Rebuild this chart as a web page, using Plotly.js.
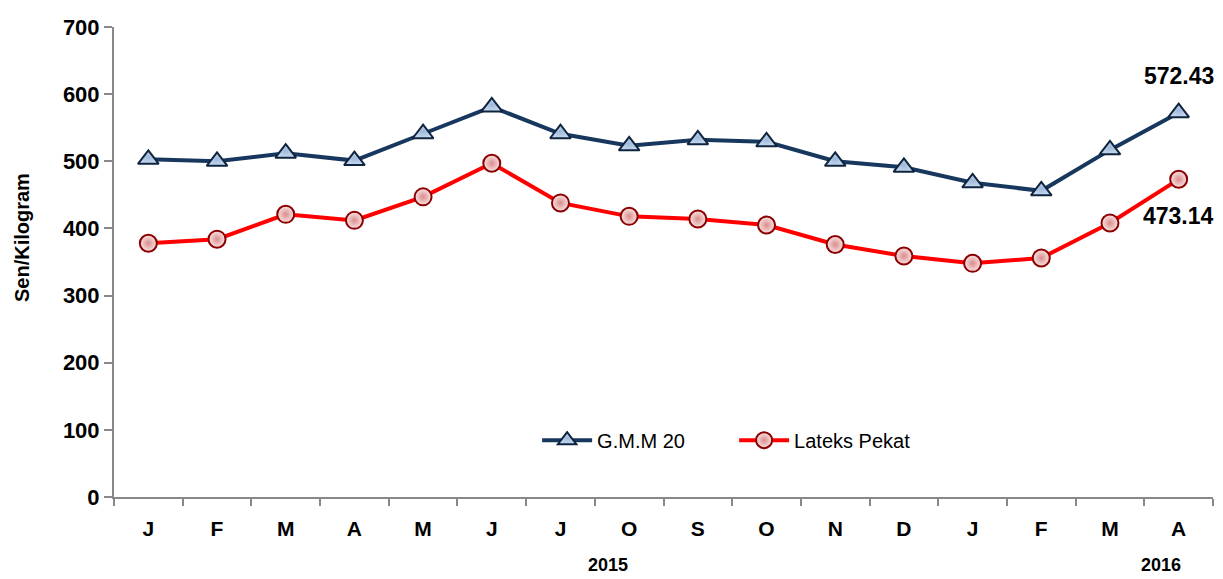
<!DOCTYPE html>
<html>
<head>
<meta charset="utf-8">
<script src="https://cdn.plot.ly/plotly-3.0.1.min.js"></script>
<style>html,body{margin:0;padding:0;background:#fff;}#chart{width:1223px;height:579px;}</style>
</head>
<body>
<div id="chart"></div>
<script>
const months = ["J","F","M","A","M","J","J","O","S","O","N","D","J","F","M","A"];
const gmm20 = [503, 500, 512, 501, 541, 581, 541, 523, 532, 529, 500, 491, 468, 456, 517, 572.43];
const lateks = [378, 384, 421, 412, 447, 497, 438, 418, 414, 405, 376, 359, 348, 356, 408, 473.14];
const yearLabels = ["2015", "2016"];
const yearPos = [6.69, 14.75];
const yTitle = "Sen/Kilogram";
const idx = months.map((m, i) => i);

const traces = [
  {
    x: idx, y: gmm20, name: "G.M.M 20", type: "scatter", mode: "lines+markers",
    line: {color: "#17375e", width: 4},
    marker: {symbol: "triangle-up", size: 18, color: "#c6d9f1",
             gradient: {type: "radial", color: "#9fb8d8"},
             line: {color: "#0f243e", width: 2}}
  },
  {
    x: idx, y: lateks, name: "Lateks Pekat", type: "scatter", mode: "lines+markers",
    line: {color: "#ff0000", width: 4},
    marker: {symbol: "circle", size: 17, color: "#fbe4e4",
             gradient: {type: "radial", color: "#d98c8c"},
             line: {color: "#8b0000", width: 2}}
  }
];

const annotations = [
  {x: 15, y: gmm20[15], xref: "x", yref: "y", text: "<b>" + gmm20[15].toFixed(2) + "</b>",
   showarrow: false, yshift: 37, font: {family: "Liberation Sans, Arial", size: 23, color: "#000"}},
  {x: 15, y: lateks[15], xref: "x", yref: "y", text: "<b>" + lateks[15].toFixed(2) + "</b>",
   showarrow: false, yshift: -37, font: {family: "Liberation Sans, Arial", size: 23, color: "#000"}},
  {x: -0.0837, y: 0.551, xref: "paper", yref: "paper", text: "<b>" + yTitle + "</b>",
   textangle: -90, showarrow: false, xanchor: "center", yanchor: "middle",
   font: {family: "Liberation Sans, Arial", size: 20, color: "#000"}}
];
yearLabels.forEach((t, i) => annotations.push({
  x: yearPos[i], y: 0, xref: "x", yref: "paper", yshift: -68, yanchor: "middle", text: "<b>" + t + "</b>",
  showarrow: false, font: {family: "Liberation Sans, Arial", size: 18, color: "#000"}
}));

const layout = {
  width: 1223, height: 579,
  margin: {l: 114, r: 10, t: 27, b: 82},
  paper_bgcolor: "#fff", plot_bgcolor: "#fff",
  showlegend: true,
  legend: {orientation: "h", x: 0.385, y: 0.121, xanchor: "left", yanchor: "middle",
           font: {family: "Liberation Sans, Arial", size: 20, color: "#000"},
           itemwidth: 50, entrywidth: 132, entrywidthmode: "pixels", tracegroupgap: 0, bgcolor: "rgba(0,0,0,0)"},
  xaxis: {
    range: [-0.5, 15.5], tickvals: idx, ticktext: months.map(m => "<b>" + m + "</b>"),
    ticks: "", showgrid: false, zeroline: false, showline: true,
    linecolor: "#888", linewidth: 2, ticklabelstandoff: 12,
    tickfont: {family: "Liberation Sans, Arial", size: 21, color: "#000"},
    minor: {tick0: -0.5, dtick: 1, ticks: "outside", ticklen: 7, tickcolor: "#888", tickwidth: 2, showgrid: false},
    fixedrange: true
  },
  yaxis: {
    range: [0, 700], tickvals: [0,100,200,300,400,500,600,700],
    ticktext: ["0","100","200","300","400","500","600","700"].map(t => "<b>" + t + "</b>"),
    ticks: "outside", ticklen: 8, tickcolor: "#888", tickwidth: 2,
    showgrid: false, zeroline: false, showline: true, linecolor: "#888", linewidth: 2,
    tickfont: {family: "Liberation Sans, Arial", size: 22, color: "#000"},
    fixedrange: true
  },
  annotations: annotations
};

Plotly.newPlot("chart", traces, layout, {displayModeBar: false, staticPlot: true});
</script>
</body>
</html>
